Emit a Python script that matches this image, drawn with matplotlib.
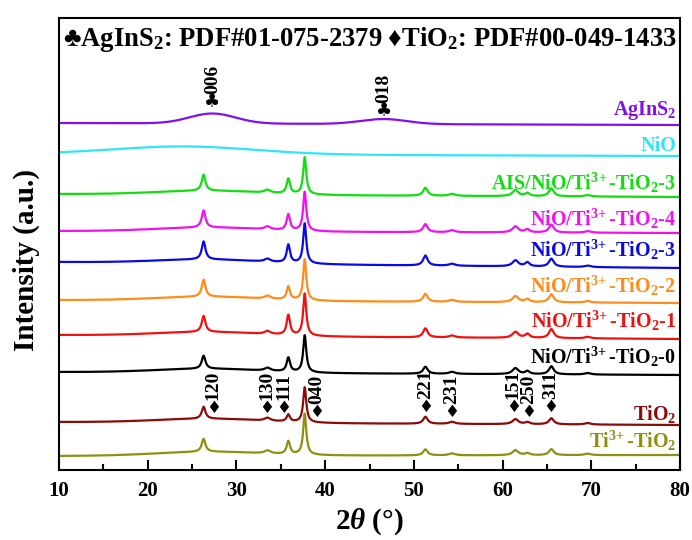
import numpy as np
import matplotlib
matplotlib.use("Agg")
import matplotlib.pyplot as plt

plt.rcParams['font.family'] = ['Liberation Serif', 'DejaVu Sans']
plt.rcParams['font.weight'] = 'bold'
plt.rcParams['mathtext.fontset'] = 'custom'
plt.rcParams['mathtext.rm'] = 'Liberation Serif:bold'
plt.rcParams['mathtext.bf'] = 'Liberation Serif:bold'
plt.rcParams['mathtext.it'] = 'Liberation Serif:italic:bold'

# ---------------- data ----------------
TI3 = 'Ti$^{3\\!+}$'
samples = ['AgInS$_2$', 'NiO', 'AIS/NiO/' + TI3 + '-TiO$_2$-3', 'NiO/' + TI3 + '-TiO$_2$-4',
           'NiO/' + TI3 + '-TiO$_2$-3', 'NiO/' + TI3 + '-TiO$_2$-2', 'NiO/' + TI3 + '-TiO$_2$-1',
           'NiO/' + TI3 + '-TiO$_2$-0', 'TiO$_2$', TI3 + '-TiO$_2$']
colors = ['#8010F0', '#2EE6F6', '#11DD11', '#F010F0', '#0A0AE6', '#FF8C1A',
          '#F01010', '#000000', '#8C0A0A', '#8F8F12']
offsets = [347, 316, 276, 239, 208, 170, 135, 98, 48, 14]
drift = [2, 2, 3, 2, 6, 3, 4, 3, 3, -1]
hump_center = [27.3, 24.0, 27.0, 27.0, 27.0, 27.0, 27.0, 27.0, 27.0, 27.0]
hump_amp = [10, 8, 4, 4, 4, 4, 4, 4, 4, 4]
hump_sigma = [2.6, 8.0, 6.0, 6.0, 6.0, 6.0, 6.0, 6.0, 6.0, 6.0]
ais_hump2_center = 46.6
ais_hump2_amp = 5
ais_hump2_sigma = 2.6

tio2_pos = [26.3, 33.5, 35.85, 37.7, 51.3, 54.3, 61.45, 62.8, 65.5, 69.6]
tio2_fwhm = [0.5, 0.8, 0.45, 0.42, 0.6, 0.8, 0.8, 0.6, 0.65, 0.8]
tio2_heights = {
    2: [16, 3, 15, 37, 8, 2, 6, 3, 8, 1.5],
    3: [17, 3, 16, 39, 8, 2, 6, 3, 8, 1.5],
    4: [18, 3, 18, 40, 10, 2, 6, 4, 8, 1.5],
    5: [17, 3, 13, 41, 8, 2, 6, 3, 8, 1.5],
    6: [16, 3, 20, 42, 9, 2, 6, 4, 9, 1.5],
    7: [13, 3, 14, 37, 7, 2, 6, 3, 8, 1.5],
    8: [12, 3, 7, 35, 7, 2, 5, 2, 6, 1.5],
    9: [13, 3, 13, 41, 6, 2, 5, 2, 6, 1.5],
}
label_y = [355, 319, 280, 244, 213, 177, 142, 106, 50, 22]

ais_hkl = ['006', '018']
ais_hkl_x = [27.3, 46.6]
ais_hkl_y = [368, 359]
tio2_hkl = ['120', '130', '111', '040', '221', '231', '151', '250', '311']
tio2_hkl_x = [27.4, 33.45, 35.3, 39.0, 51.35, 54.3, 61.2, 62.9, 65.4]
tio2_hkl_y = [62, 62, 62, 58, 63, 58, 63, 58, 63]

xticks = [10, 20, 30, 40, 50, 60, 70, 80]
minor_xticks = [15, 25, 35, 45, 55, 65, 75]

# ---------------- figure ----------------
fig = plt.figure(figsize=(6.92, 5.40), dpi=100)
ax = fig.add_axes([59/692, 1-470/540, (680-59)/692, (470-18)/540])

tt = np.linspace(10, 80, 3501)

def lor(x, p, h, w):
    return h / (1 + ((x - p) / (w / 2)) ** 2)

for i, (name, c) in enumerate(zip(samples, colors)):
    y = offsets[i] - drift[i] * (tt - 10) / 70.0
    y = y + hump_amp[i] * np.exp(-(tt - hump_center[i]) ** 2 / (2 * hump_sigma[i] ** 2))
    if i == 0:
        y = y + ais_hump2_amp * np.exp(-(tt - ais_hump2_center) ** 2 / (2 * ais_hump2_sigma ** 2))
    if i in tio2_heights:
        for p, w, h in zip(tio2_pos, tio2_fwhm, tio2_heights[i]):
            y = y + lor(tt, p, h, w)
    ax.plot(tt, y, color=c, lw=1.6)
    ax.text(79.55, label_y[i], name, color=c, fontsize=14.5, fontweight='bold',
            ha='right', va='baseline')

def mark(sym, lab, x, y, symsize):
    ax.text(x, y, sym, ha='center', va='center', fontsize=symsize,
            family='DejaVu Sans', color='black')
    ax.annotate(lab, xy=(x, y), xytext=(0, 6), textcoords='offset points',
                rotation=90, ha='center', va='bottom', fontsize=14,
                fontweight='bold', color='black')

for lab, x, y in zip(ais_hkl, ais_hkl_x, ais_hkl_y):
    mark('\u2663', lab, x, y, 13)
for lab, x, y in zip(tio2_hkl, tio2_hkl_x, tio2_hkl_y):
    mark('\u2666', lab, x, y, 12)

ax.text(45.1, 431, '\u2663AgInS$_2$: PDF#01-075-2379 \u2666TiO$_2$: PDF#00-049-1433',
        ha='center', va='center', fontsize=19.2, fontweight='bold')

ax.set_xlim(10, 80)
ax.set_ylim(0, 452)
ax.set_xticks(xticks)
ax.set_xticks(minor_xticks, minor=True)
ax.set_yticks([])
ax.tick_params(axis='x', which='major', direction='in', length=7, width=1.5,
               labelsize=15, pad=8)
ax.tick_params(axis='x', which='minor', direction='in', length=4, width=1.5)
for t in ax.get_xticklabels():
    t.set_fontweight('bold')
for s in ax.spines.values():
    s.set_linewidth(1.5)

ax.set_xlabel('2$\\theta$ (°)', fontsize=21, fontweight='bold', labelpad=4)
ax.set_ylabel('Intensity (a.u.)', fontsize=21, fontweight='bold')
ax.yaxis.set_label_coords(-0.031, 0.465)

fig.savefig('out.png', dpi=100)
